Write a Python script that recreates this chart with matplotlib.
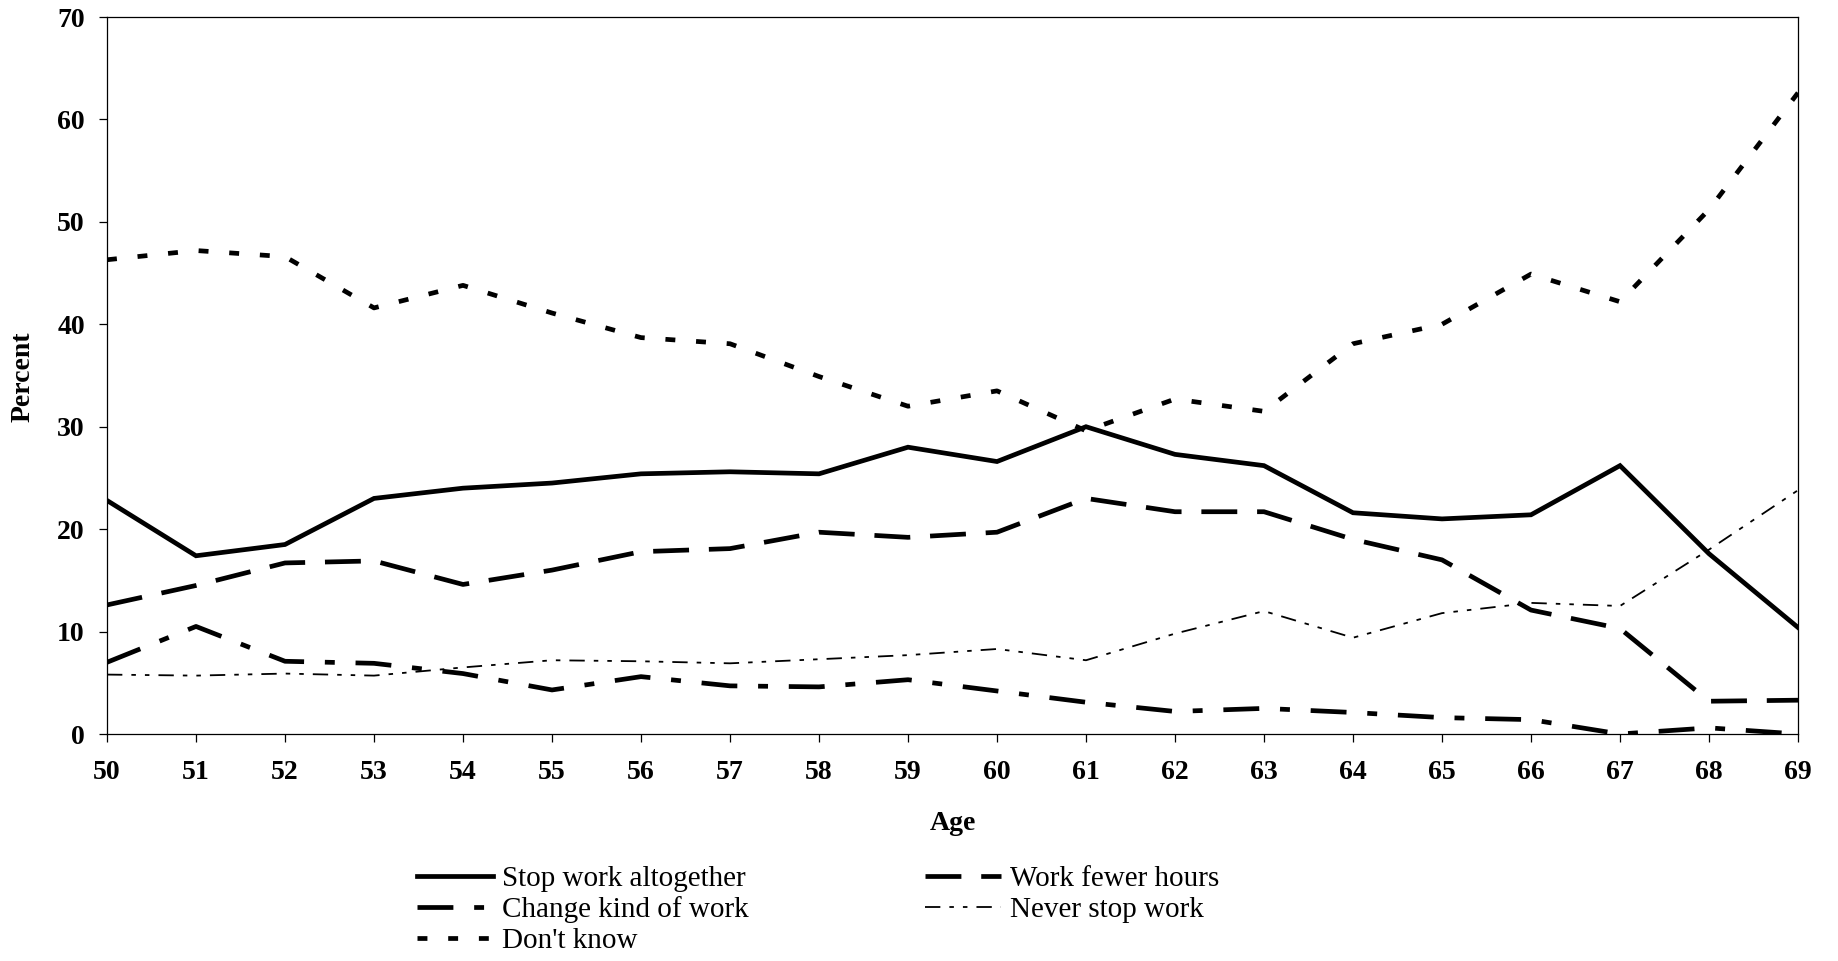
import matplotlib
matplotlib.use("Agg")
import matplotlib.pyplot as plt

ages = list(range(50, 70))
stop_work = [22.8, 17.4, 18.5, 23.0, 24.0, 24.5, 25.4, 25.6, 25.4, 28.0,
             26.6, 30.0, 27.3, 26.2, 21.6, 21.0, 21.4, 26.2, 17.6, 10.4]
fewer_hours = [12.6, 14.5, 16.7, 16.9, 14.6, 16.0, 17.8, 18.1, 19.7, 19.2,
               19.7, 23.0, 21.7, 21.7, 19.0, 17.0, 12.1, 10.3, 3.2, 3.3]
change_kind = [7.0, 10.5, 7.1, 6.9, 5.9, 4.3, 5.6, 4.7, 4.6, 5.3,
               4.2, 3.1, 2.2, 2.5, 2.1, 1.6, 1.4, 0.0, 0.6, 0.0]
never_stop = [5.8, 5.7, 5.9, 5.7, 6.5, 7.2, 7.1, 6.9, 7.3, 7.7,
              8.3, 7.2, 9.8, 12.0, 9.4, 11.8, 12.8, 12.5, 18.0, 23.8]
dont_know = [46.3, 47.2, 46.6, 41.6, 43.8, 41.1, 38.7, 38.1, 34.9, 32.0,
             33.5, 29.6, 32.7, 31.5, 38.1, 40.0, 44.9, 42.2, 51.2, 62.6]

labels = ["Stop work altogether", "Work fewer hours", "Change kind of work",
          "Never stop work", "Don't know"]
y_ticks = [0, 10, 20, 30, 40, 50, 60, 70]

plt.rcParams['font.family'] = ['Liberation Serif', 'DejaVu Serif']

W, H = 1838, 961
fig = plt.figure(figsize=(W / 100, H / 100), dpi=100)
ax = fig.add_axes([107 / W, 1 - 734 / H, (1798 - 107) / W, (734 - 17) / H])

LW = 3.4
l1, = ax.plot(ages, stop_work, color='black', lw=LW, solid_joinstyle='miter')
l2, = ax.plot(ages, fewer_hours, color='black', lw=LW, dashes=(7.6, 4.2),
              dash_capstyle='butt')
l3, = ax.plot(ages, change_kind, color='black', lw=LW,
              dashes=(7.6, 4.4, 2.1, 4.4), dash_capstyle='butt')
l4, = ax.plot(ages, never_stop, color='black', lw=1.3,
              dashes=(8.5, 5, 2.5, 5, 2.5, 5), dash_capstyle='butt')
l5, = ax.plot(ages, dont_know, color='black', lw=LW, dashes=(2.1, 4.4),
              dash_capstyle='butt')

ax.set_xlim(50, 69)
ax.set_ylim(0, 70)
ax.set_xticks(ages)
ax.set_yticks(y_ticks)
ax.tick_params(axis='both', direction='out', length=6, width=0.9, labelsize=20)
ax.tick_params(axis='x', pad=13)
ax.tick_params(axis='y', pad=10)
for lab in ax.get_xticklabels() + ax.get_yticklabels():
    lab.set_fontweight('bold')
for sp in ax.spines.values():
    sp.set_linewidth(0.9)

fig.text(953 / W, 1 - 823 / H, "Age", ha='center', va='center',
         fontsize=20, fontweight='bold')
fig.text(23 / W, 1 - 377 / H, "Percent", ha='center', va='center',
         fontsize=20, fontweight='bold', rotation=90)

leg_kw = dict(loc='upper left', frameon=False, fontsize=21,
              handlelength=2.6, handletextpad=0.3, labelspacing=0.14,
              borderpad=0, borderaxespad=0)
fig.legend([l1, l3, l5], [labels[0], labels[2], labels[4]],
           bbox_to_anchor=(417 / W, 1 - 866 / H), **leg_kw)
fig.legend([l2, l4], [labels[1], labels[3]],
           bbox_to_anchor=(925 / W, 1 - 866 / H), **leg_kw)

fig.savefig("out.png", dpi=100)
